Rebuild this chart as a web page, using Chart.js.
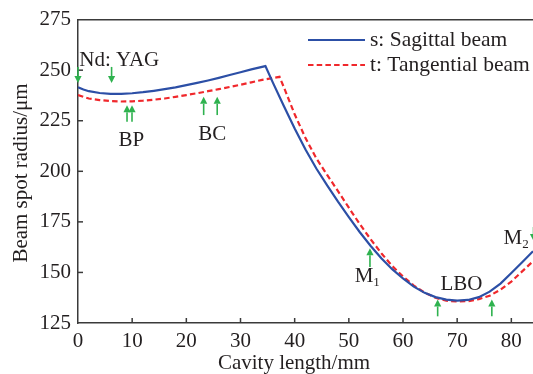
<!DOCTYPE html>
<html><head><meta charset="utf-8">
<script src="https://cdn.jsdelivr.net/npm/chart.js@4/dist/chart.umd.min.js"></script>
<style>html,body{margin:0;padding:0;background:#fff;overflow:hidden}canvas{display:block}</style>
</head><body><canvas id="c" width="533" height="374"></canvas>
<script>
// ---- data ----
const sagittalX = [0,1,2,4,6,8,10,12,14,16,18,20,22,24,26,28,30,32,34.6,36,38,40,42,44,46,48,50,52,54,56,58,60,62,64,66,68,70,72,74,76,78,80,82,84];
const sagittalY = [241.5,240.4,239.6,238.7,238.3,238.3,238.6,239.1,239.8,240.6,241.5,242.6,243.7,244.9,246.2,247.6,249.0,250.4,252.0,243.7,232.3,221.2,210.8,201.4,193,185,177.4,170,163.2,157,151.6,147,143,139.9,137.8,136.6,136.1,136.4,137.8,140.5,144.5,149.7,155,160.5];
const tangentialX = [0,1,2,4,6,8,10,12,14,16,18,20,22,24,26,28,30,32,34,37.2,38,40,42,44,46,48,50,52,54,56,58,60,62,64,66,68,70,72,74,76,78,80,82,84];
const tangentialY = [237.7,236.8,236,235.2,234.7,234.5,234.6,234.9,235.4,236,236.8,237.7,238.6,239.6,240.6,241.7,242.8,244,245.2,246.7,241.6,228.2,216.4,206.4,198.2,190.2,182,174,166.5,159.5,153.2,148,143.5,140,137.5,136,135.6,135.8,136.8,138.5,141.5,145.5,150.5,155.5];
const seriesNames = ['s: Sagittal beam', 't: Tangential beam'];
const xTickValues = [0,10,20,30,40,50,60,70,80];
const yTickValues = [125,150,175,200,225,250,275];
const axisTitles = ['Cavity length/mm', 'Beam spot radius/μm'];
// green arrows: x position, tail value, head value
const arrowX    = [0,     6.2,   9.05,  9.97,  23.2,  25.7,  53.9,  66.4,  76.4,  84.1];
const arrowTail = [251.6, 251.6, 224.5, 224.5, 227.8, 227.8, 152.7, 128.3, 128.3, 172.5];
const arrowHead = [243.6, 243.6, 232.7, 232.7, 236.8, 236.8, 162.0, 136.6, 136.6, 165.5];
// component labels: text, subscript, x, value, alignment
const labelText = ['Nd: YAG', 'BP', 'BC', 'M', 'LBO', 'M'];
const labelSub  = ['', '', '', '1', '', '2'];
const labelX    = [0.25, 9.85, 24.8, 52.8, 70.8, 80.3];
const labelY    = [255, 215, 218.4, 148, 144, 166.6];
const labelAlign= ['left','center','center','center','center','center'];

const FONT = "'Liberation Serif', 'Times New Roman', serif";
const TXT = '#231f20';
const AX = '#3a3a3a';
const BLUE = '#2c4fa6';
const RED = '#f0282c';
const GREEN = '#2fb24f';

const overlay = {
  id: 'overlay',
  afterDatasetsDraw(chart) {
    const ctx = chart.ctx, xs = chart.scales.x, ys = chart.scales.y, a = chart.chartArea;
    ctx.save();
    // inward ticks
    ctx.strokeStyle = AX; ctx.lineWidth = 1.5;
    xTickValues.forEach(v => { if (v === 0) return; const px = xs.getPixelForValue(v);
      ctx.beginPath(); ctx.moveTo(px, a.bottom); ctx.lineTo(px, a.bottom - 5); ctx.stroke(); });
    yTickValues.forEach(v => { if (v === 125 || v === 275) return; const py = ys.getPixelForValue(v);
      ctx.beginPath(); ctx.moveTo(a.left, py); ctx.lineTo(a.left + 5, py); ctx.stroke(); });
    // arrows
    ctx.strokeStyle = GREEN; ctx.fillStyle = GREEN; ctx.lineWidth = 1.6;
    arrowX.forEach((xv, i) => {
      const px = xs.getPixelForValue(xv), y0 = ys.getPixelForValue(arrowTail[i]), y1 = ys.getPixelForValue(arrowHead[i]);
      const dir = Math.sign(y1 - y0), hl = 7, hw = 3.6;
      ctx.beginPath(); ctx.moveTo(px, y0); ctx.lineTo(px, y1 - dir * hl); ctx.stroke();
      ctx.beginPath(); ctx.moveTo(px, y1); ctx.lineTo(px - hw, y1 - dir * hl); ctx.lineTo(px + hw, y1 - dir * hl); ctx.closePath(); ctx.fill();
    });
    // labels
    ctx.fillStyle = TXT; ctx.textBaseline = 'middle';
    labelText.forEach((t, i) => {
      const px = xs.getPixelForValue(labelX[i]), py = ys.getPixelForValue(labelY[i]);
      ctx.font = '21px ' + FONT; ctx.textAlign = labelAlign[i];
      ctx.fillText(t, px, py);
      if (labelSub[i]) {
        const w = ctx.measureText(t).width;
        const sx = labelAlign[i] === 'center' ? px + w / 2 : px + w;
        ctx.font = '13px ' + FONT; ctx.textAlign = 'left';
        ctx.fillText(labelSub[i], sx, py + 6);
      }
    });
    // axis titles
    ctx.font = '21px ' + FONT; ctx.textAlign = 'center'; ctx.textBaseline = 'middle';
    ctx.fillText(axisTitles[0], 294, 363);
    ctx.save(); ctx.translate(21, 173); ctx.rotate(-Math.PI / 2);
    ctx.fillText(axisTitles[1], 0, 0); ctx.restore();
    // legend
    const items = chart.data.datasets;
    [40, 65].forEach((ly, i) => {
      const ds = items[i];
      ctx.strokeStyle = ds.borderColor; ctx.lineWidth = ds.borderWidth;
      ctx.setLineDash(ds.borderDash || []);
      ctx.beginPath(); ctx.moveTo(308, ly); ctx.lineTo(365, ly); ctx.stroke();
      ctx.setLineDash([]);
      ctx.fillStyle = TXT; ctx.font = '21.5px ' + FONT; ctx.textAlign = 'left'; ctx.textBaseline = 'middle';
      ctx.fillText(ds.label, 370, ly);
    });
    ctx.restore();
  }
};

new Chart(document.getElementById('c'), {
  type: 'line',
  data: {
    datasets: [
      { label: seriesNames[0], data: sagittalX.map((x, i) => ({x, y: sagittalY[i]})),
        borderColor: BLUE, borderWidth: 2.2, pointRadius: 0, tension: 0, fill: false },
      { label: seriesNames[1], data: tangentialX.map((x, i) => ({x, y: tangentialY[i]})),
        borderColor: RED, borderWidth: 2.2, borderDash: [5.5, 3.2], pointRadius: 0, tension: 0, fill: false }
    ]
  },
  options: {
    responsive: false, animation: false,
    layout: { padding: 0 },
    plugins: { legend: { display: false }, tooltip: { enabled: false } },
    scales: {
      x: {
        type: 'linear', position: 'bottom', min: 0, max: 84,
        afterBuildTicks: s => { s.ticks = xTickValues.map(v => ({value: v})); },
        afterFit: s => { s.height = 51; },
        grid: { display: false, drawTicks: false },
        border: { display: true, color: AX, width: 1.5 },
        ticks: { padding: 6, color: TXT, font: { family: FONT, size: 21 } }
      },
      x2: {
        type: 'linear', position: 'top', min: 0, max: 84,
        afterFit: s => { s.height = 19; },
        grid: { display: false, drawTicks: false },
        border: { display: true, color: AX, width: 1.5 },
        ticks: { display: false }
      },
      y: {
        type: 'linear', position: 'left', min: 125, max: 275,
        afterBuildTicks: s => { s.ticks = yTickValues.map(v => ({value: v})); },
        afterFit: s => { s.width = 78; },
        grid: { display: false, drawTicks: false },
        border: { display: true, color: AX, width: 1.5 },
        ticks: { padding: 7, color: TXT, font: { family: FONT, size: 21 } }
      }
    }
  },
  plugins: [overlay]
});
</script>
</body></html>
